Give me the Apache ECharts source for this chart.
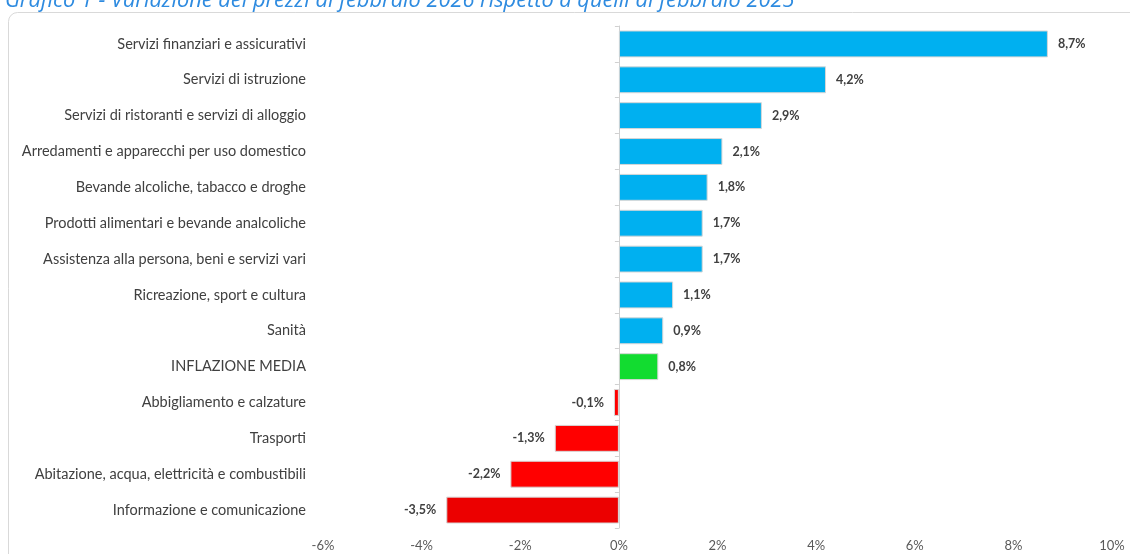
<!DOCTYPE html>
<html>
<head>
<meta charset="utf-8">
<script src="https://cdn.jsdelivr.net/npm/echarts@6/dist/echarts.min.js"></script>
<style>
html,body{margin:0;padding:0;background:#fff;}
#c{width:1130px;height:554px;}
</style>
</head>
<body>
<div id="c"></div>
<script>
const titleText = 'Grafico 1 - Variazione dei prezzi di febbraio 2026 rispetto a quelli di febbraio 2025';
const categories = [
  'Servizi finanziari e assicurativi',
  'Servizi di istruzione',
  'Servizi di ristoranti e servizi di alloggio',
  'Arredamenti e apparecchi per uso domestico',
  'Bevande alcoliche, tabacco e droghe',
  'Prodotti alimentari e bevande analcoliche',
  'Assistenza alla persona, beni e servizi vari',
  'Ricreazione, sport e cultura',
  'Sanità',
  'INFLAZIONE MEDIA',
  'Abbigliamento e calzature',
  'Trasporti',
  'Abitazione, acqua, elettricità e combustibili',
  'Informazione e comunicazione'
];
const values = [8.7, 4.2, 2.9, 2.1, 1.8, 1.7, 1.7, 1.1, 0.9, 0.8, -0.1, -1.3, -2.2, -3.5];
const averageCategory = 'INFLAZIONE MEDIA';
const xTicks = { min: -6, max: 10, interval: 2 };

const minVal = Math.min.apply(null, values);
function colorFor(cat, v) {
  if (cat === averageCategory) return '#12DC30';
  if (v < 0) return v === minVal ? '#EC0000' : '#FF0000';
  return '#00B0F0';
}
const fmt = v => v.toFixed(1).replace('.', ',') + '%';

const seriesData = values.map((v, i) => ({
  value: v,
  itemStyle: { color: colorFor(categories[i], v) },
  label: { position: v < 0 ? 'left' : 'right' }
}));

const chart = echarts.init(document.getElementById('c'), null, { renderer: 'canvas' });
chart.setOption({
  animation: false,
  backgroundColor: '#ffffff',
  textStyle: { fontFamily: 'Lato, "Open Sans", sans-serif' },
  title: {
    text: titleText,
    left: 0,
    top: -15,
    textStyle: { color: '#2E8BE0', fontStyle: 'italic', fontWeight: 'normal', fontSize: 21.8, fontFamily: '"Open Sans", sans-serif' }
  },
  graphic: [{
    type: 'rect',
    shape: { x: 8.5, y: 12.5, width: 1140, height: 560, r: 9 },
    style: { fill: 'none', stroke: '#d9d9d9', lineWidth: 1 },
    silent: true,
    z: -1
  }],
  grid: { left: 323, right: 18, top: 26, bottom: 26, containLabel: false },
  xAxis: {
    type: 'value',
    min: xTicks.min, max: xTicks.max, interval: xTicks.interval,
    axisLine: { show: false },
    axisTick: { show: false },
    splitLine: { show: false },
    axisLabel: { color: '#595959', fontSize: 13, margin: 11, formatter: v => v + '%' }
  },
  yAxis: [{
    type: 'category',
    data: categories,
    inverse: true,
    position: 'left',
    axisLine: { show: false, onZero: false },
    axisTick: { show: false },
    axisLabel: { color: '#404040', fontSize: 14.5, margin: 17 }
  }, {
    type: 'category',
    data: categories,
    inverse: true,
    position: 'left',
    axisLine: { show: true, onZero: true, lineStyle: { color: '#d0d0d0', width: 1 } },
    axisTick: { show: true, length: 4, lineStyle: { color: '#d0d0d0' } },
    axisLabel: { show: false }
  }],
  series: [{
    type: 'bar',
    yAxisIndex: 0,
    data: seriesData,
    barCategoryGap: '25%',
    itemStyle: { borderColor: '#d6d6d6', borderWidth: 1 },
    label: {
      show: true,
      distance: 10,
      color: '#404040',
      fontWeight: 'bold',
      fontSize: 12.5,
      formatter: p => fmt(p.value)
    }
  }]
});
</script>
</body>
</html>
